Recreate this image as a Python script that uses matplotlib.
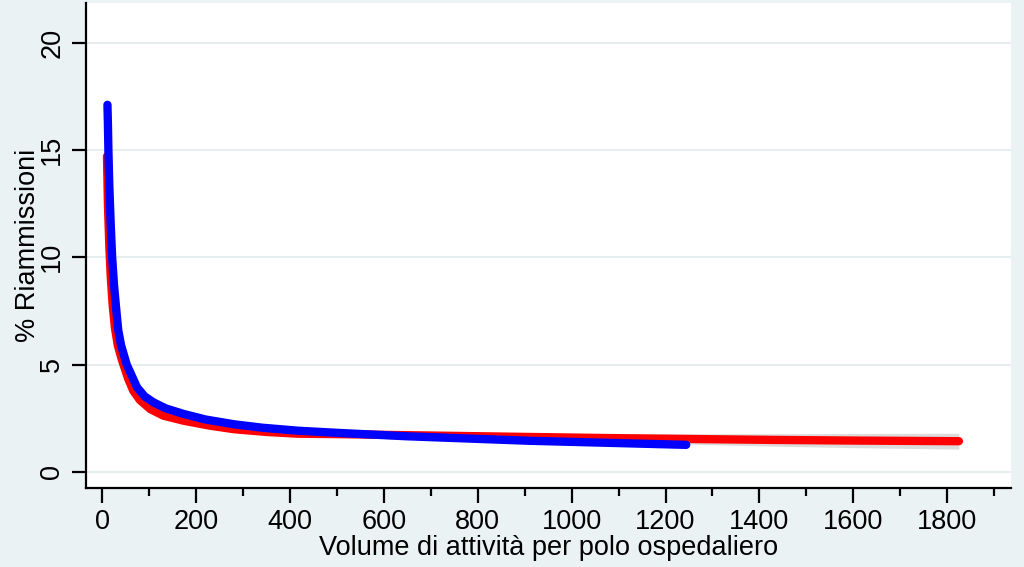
import matplotlib
matplotlib.use("Agg")
import matplotlib.pyplot as plt
from matplotlib.ticker import MultipleLocator

plt.rcParams['font.family'] = ['Liberation Sans', 'DejaVu Sans']

# curva rossa (con intervallo di confidenza)
red_x = [10, 12, 15, 18, 22, 27, 33, 40, 45, 55, 66, 80, 102, 130, 174, 230,
         280, 350, 416, 500, 650, 900, 1100, 1430, 1600, 1825]
red_y = [14.7, 12.5, 10.5, 9.1, 7.8, 6.7, 5.9, 5.35, 5.0, 4.35, 3.78, 3.35, 2.93,
         2.62, 2.38, 2.15, 1.99, 1.86, 1.78, 1.76, 1.71, 1.63, 1.57, 1.49, 1.46, 1.43]
red_lo = [14.2, 12.1, 10.2, 8.85, 7.6, 6.5, 5.75, 5.2, 4.87, 4.23, 3.67, 3.25, 2.84,
          2.54, 2.30, 2.08, 1.92, 1.78, 1.69, 1.66, 1.58, 1.47, 1.37, 1.20, 1.13, 1.06]
red_hi = [15.2, 12.9, 10.8, 9.35, 8.0, 6.9, 6.05, 5.5, 5.13, 4.47, 3.89, 3.45, 3.02,
          2.70, 2.46, 2.22, 2.06, 1.94, 1.87, 1.86, 1.84, 1.79, 1.77, 1.78, 1.79, 1.80]

# curva blu
blue_x = [11, 12, 13, 15, 18, 21, 25, 30, 34, 40, 52, 74, 90, 109, 135, 173, 220,
          280, 340, 416, 500, 648, 909, 1244]
blue_y = [17.1, 16.2, 15.0, 13.3, 11.5, 10.0, 8.7, 7.5, 6.6, 5.9, 5.0, 3.94, 3.52,
          3.24, 2.96, 2.70, 2.44, 2.22, 2.06, 1.92, 1.82, 1.66, 1.45, 1.26]

bg = '#eaf2f3'

fig = plt.figure(figsize=(10.24, 5.67), dpi=100, facecolor=bg)
ax = fig.add_axes([86/1024, 1-488/567, (1011-86)/1024, (488-3)/567])
ax.set_facecolor('white')

#bande e curve
ax.fill_between(red_x, red_lo, red_hi, color='#dcdcdc', lw=0, zorder=2)
ax.plot(red_x, red_y, color='#ff0000', lw=6, solid_capstyle='round', zorder=3)
ax.plot(blue_x, blue_y, color='#0000ff', lw=6, solid_capstyle='round', zorder=4)

#assi
ax.set_xlim(-34.7, 1936)
ax.set_ylim(-0.75, 21.84)
ax.xaxis.set_major_locator(MultipleLocator(200))
ax.xaxis.set_minor_locator(MultipleLocator(100))
ax.set_yticks([0, 5, 10, 15, 20])
ax.grid(True, axis='y', color='#e6eef0', lw=1.5, zorder=1)
ax.set_axisbelow(True)

for s in ['top', 'right']:
    ax.spines[s].set_visible(False)
for s in ['left', 'bottom']:
    ax.spines[s].set_linewidth(1.6)
    ax.spines[s].set_color('black')

ax.tick_params(axis='x', which='major', length=11, width=1.6, labelsize=19.5, pad=4)
ax.tick_params(axis='x', which='minor', length=6, width=1.6)
ax.tick_params(axis='y', which='major', length=10, width=1.6, labelsize=19.5, pad=5)
for lab in ax.get_yticklabels():
    lab.set_rotation(90)
    lab.set_va('center')

ax.set_xlabel('Volume di attività per polo ospedaliero', fontsize=19.5, va='baseline')
ax.xaxis.set_label_coords(0.5, -0.138)
ax.set_ylabel('% Riammissioni', fontsize=19.5, va='baseline')
ax.yaxis.set_label_coords(-0.0551, 0.5)

fig.savefig('out.png', dpi=100, facecolor=bg)
